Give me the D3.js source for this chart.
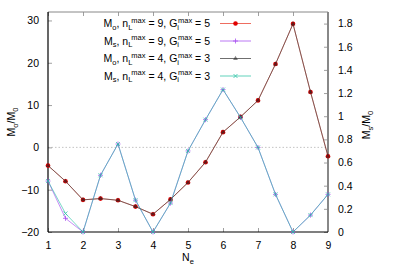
<!DOCTYPE html>
<html lang="en">
<head>
  <meta charset="UTF-8">
  <title>Mo / Ms vs Ne</title>
  <script src="https://d3js.org/d3.v7.min.js"></script>
  <style>
    body { margin: 0; background: #fff; }
    svg { display: block; font-family: "Liberation Sans", Arial, sans-serif; font-size: 10.5px; }
    .tick text { fill: #000; }
  </style>
</head>
<body>
  <svg width="399" height="279"></svg>

  <script>
    // data
    const ne = [1, 1.5, 2, 2.5, 3, 3.5, 4, 4.5, 5, 5.5, 6, 6.5, 7, 7.5, 8, 8.5, 9];
    const mo95 = [-4.3, -8, -12.4, -12.1, -12.5, -14, -15.8, -12.3, -8.3, -3.5, 3.6, 7.2, 11.1, 19.7, 29.2, 13.1, -2.1];
    const mo43 = [-4.3, -8, -12.4, -12.1, -12.5, -14, -15.8, -12.3, -8.3, -3.5, 3.6, 7.2, 11.1, 19.7, 29.2, 13.1, -2.1];
    const ms95 = [0.44, 0.118, 0, 0.49, 0.76, 0.275, 0, 0.25, 0.70, 0.97, 1.23, 0.99, 0.73, 0.325, 0, 0.146, 0.325];
    const ms43 = [0.44, 0.16, 0, 0.49, 0.76, 0.275, 0, 0.25, 0.70, 0.97, 1.23, 0.99, 0.73, 0.325, 0, 0.146, 0.325];

    const xTicks  = [1, 2, 3, 4, 5, 6, 7, 8, 9];
    const yTicks  = [-20, -10, 0, 10, 20, 30];
    const y2Ticks = [0, 0.2, 0.4, 0.6, 0.8, 1, 1.2, 1.4, 1.6, 1.8];

    const svg    = d3.select("svg"),
          margin = { top: 12, right: 71, bottom: 47, left: 48 },
          width  = +svg.attr("width")  - margin.left - margin.right,
          height = +svg.attr("height") - margin.top  - margin.bottom,
          g      = svg.append("g").attr("transform", `translate(${margin.left},${margin.top})`);

    const x  = d3.scaleLinear().domain([1, 9]).range([0, width]);
    const y  = d3.scaleLinear().domain([-20, 32]).range([height, 0]);
    const y2 = d3.scaleLinear().domain([0, 1.9]).range([height, 0]);

    // zero line
    g.append("line")
     .attr("x1", 0).attr("x2", width)
     .attr("y1", y(0)).attr("y2", y(0))
     .attr("stroke", "#aaa").attr("stroke-width", 0.7)
     .attr("stroke-dasharray", "1.5,2");

    // axes (ticks point inward, like gnuplot)
    const axBottom = g.append("g")
      .attr("transform", `translate(0,${height})`)
      .call(d3.axisBottom(x).tickValues(xTicks).tickSize(-4).tickPadding(10).tickFormat(d3.format("d")));
    const axTop = g.append("g")
      .call(d3.axisTop(x).tickValues(xTicks).tickSize(-4).tickFormat(""));
    const axLeft = g.append("g")
      .call(d3.axisLeft(y).tickValues(yTicks).tickSize(-4).tickPadding(9).tickFormat(d3.format("d")));
    const axRight = g.append("g")
      .attr("transform", `translate(${width},0)`)
      .call(d3.axisRight(y2).tickValues(y2Ticks).tickSize(-4).tickPadding(10).tickFormat(d => d3.format("~g")(d)));

    [axBottom, axTop, axLeft, axRight].forEach(a => {
      a.select(".domain").remove();
      a.selectAll(".tick line").attr("stroke", "#888").attr("stroke-width", 0.8);
      a.selectAll(".tick text").attr("font-size", "10.5px").attr("font-family", "Liberation Sans, Arial, sans-serif");
    });

    // border
    g.append("line").attr("x1", 0).attr("x2", width).attr("y1", 0).attr("y2", 0)
     .attr("stroke", "#888").attr("stroke-width", 1);
    g.append("line").attr("x1", width).attr("x2", width).attr("y1", 0).attr("y2", height)
     .attr("stroke", "#888").attr("stroke-width", 2);
    g.append("line").attr("x1", 0).attr("x2", 0).attr("y1", 0).attr("y2", height)
     .attr("stroke", "#000").attr("stroke-width", 1.2);
    g.append("line").attr("x1", 0).attr("x2", width).attr("y1", height).attr("y2", height)
     .attr("stroke", "#000").attr("stroke-width", 1.2);

    const series = [
      { name: "mo95", vals: mo95, sc: y,  color: "#e8301e", mark: "circle",   mcolor: "#e00000" },
      { name: "ms95", vals: ms95, sc: y2, color: "#a040f0", mark: "plus",     mcolor: "#a040f0" },
      { name: "mo43", vals: mo43, sc: y,  color: "#333333", mark: "triangle", mcolor: "#222222" },
      { name: "ms43", vals: ms43, sc: y2, color: "#20c0a0", mark: "cross",    mcolor: "#20c0a0" }
    ];

    function drawMark(sel, s, px, py) {
      if (s.mark === "circle") {
        sel.append("circle").attr("cx", px).attr("cy", py).attr("r", 2.3).attr("fill", s.mcolor);
      } else if (s.mark === "triangle") {
        sel.append("path").attr("d", d3.symbol(d3.symbolTriangle, 10)()).attr("transform", `translate(${px},${py})`)
           .attr("fill", s.mcolor).attr("opacity", 0.55);
      } else if (s.mark === "plus") {
        sel.append("path").attr("d", `M${px-2.5},${py}H${px+2.5}M${px},${py-2.5}V${py+2.5}`)
           .attr("stroke", s.mcolor).attr("stroke-width", 0.9).attr("opacity", 0.8);
      } else {
        sel.append("path").attr("d", `M${px-2},${py-2}L${px+2},${py+2}M${px-2},${py+2}L${px+2},${py-2}`)
           .attr("stroke", s.mcolor).attr("stroke-width", 0.9).attr("opacity", 0.8);
      }
    }

    series.forEach(s => {
      const pts = ne.map((n, i) => [x(n), s.sc(s.vals[i])]);
      g.append("path")
       .datum(pts)
       .attr("fill", "none")
       .attr("stroke", s.color)
       .attr("stroke-width", 1)
       .attr("opacity", 0.6)
       .attr("d", d3.line());
      const mg = g.append("g");
      pts.forEach(p => drawMark(mg, s, p[0], p[1]));
    });

    // legend
    const legend = [
      { s: series[0], sub: "o", n: "9", gi: "5" },
      { s: series[1], sub: "s", n: "9", gi: "5" },
      { s: series[2], sub: "o", n: "4", gi: "3" },
      { s: series[3], sub: "s", n: "4", gi: "3" }
    ];
    const lg = svg.append("g");
    legend.forEach((d, i) => {
      const ly = 23.5 + i * 17.5;
      const t = lg.append("text").attr("x", 210).attr("y", ly + 3.8).attr("text-anchor", "end")
                  .attr("font-size", "10.5px");
      t.append("tspan").text("M");
      t.append("tspan").attr("font-size", "7.5px").attr("dy", 2.5).text(d.sub);
      t.append("tspan").attr("dy", -2.5).text(", n");
      t.append("tspan").attr("font-size", "7.5px").attr("dy", 2.5).text("L");
      t.append("tspan").attr("font-size", "7.5px").attr("dy", -7).attr("dx", -1).text("max");
      t.append("tspan").attr("dy", 4.5).text(` = ${d.n}, G`);
      t.append("tspan").attr("font-size", "7.5px").attr("dy", 2.5).text("i");
      t.append("tspan").attr("font-size", "7.5px").attr("dy", -7).attr("dx", -1).text("max");
      t.append("tspan").attr("dy", 4.5).text(` = ${d.gi}`);
      lg.append("line").attr("x1", 220).attr("x2", 251).attr("y1", ly).attr("y2", ly)
        .attr("stroke", d.s.color).attr("stroke-width", 1).attr("opacity", 0.7);
      drawMark(lg, d.s, 235.5, ly);
    });

    // axis labels
    const yl = svg.append("text").attr("transform", "translate(15,122) rotate(-90)")
      .attr("text-anchor", "middle").attr("font-size", "10.5px");
    yl.append("tspan").text("M");
    yl.append("tspan").attr("font-size", "7.5px").attr("dy", 2.5).text("o");
    yl.append("tspan").attr("dy", -2.5).text("/M");
    yl.append("tspan").attr("font-size", "7.5px").attr("dy", 2.5).text("0");

    const y2l = svg.append("text").attr("transform", "translate(370,125) rotate(-90)")
      .attr("text-anchor", "middle").attr("font-size", "10.5px");
    y2l.append("tspan").text("M");
    y2l.append("tspan").attr("font-size", "7.5px").attr("dy", 2.5).text("s");
    y2l.append("tspan").attr("dy", -2.5).text("/M");
    y2l.append("tspan").attr("font-size", "7.5px").attr("dy", 2.5).text("0");

    const xl = svg.append("text").attr("x", 188).attr("y", 261)
      .attr("text-anchor", "middle").attr("font-size", "10.5px");
    xl.append("tspan").text("N");
    xl.append("tspan").attr("font-size", "7.5px").attr("dy", 2.5).text("e");
  </script>
</body>
</html>
